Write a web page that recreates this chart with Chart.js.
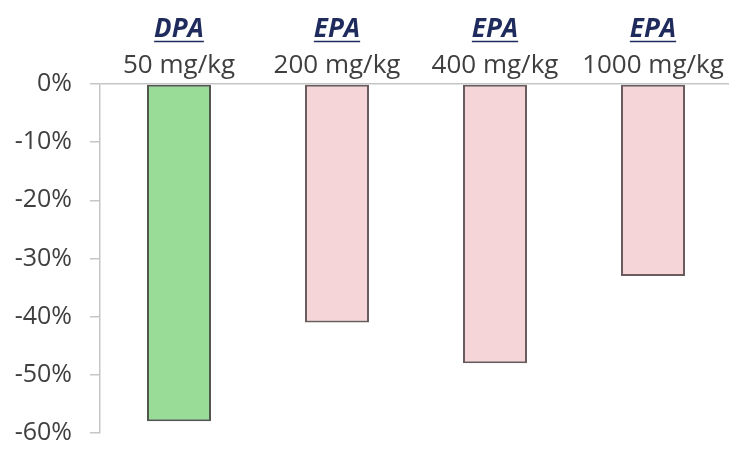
<!DOCTYPE html>
<html>
<head>
<meta charset="utf-8">
<script src="https://cdn.jsdelivr.net/npm/chart.js@4/dist/chart.umd.min.js"></script>
<style>
  html, body { margin: 0; padding: 0; background: #ffffff; overflow: hidden; }
</style>
</head>
<body>
<canvas id="c" width="732" height="451"></canvas>
<script>
// Compound and dose shown above each bar
const compounds = ['DPA', 'EPA', 'EPA', 'EPA'];
const doses = ['50 mg/kg', '200 mg/kg', '400 mg/kg', '1000 mg/kg'];
// Percent change for each treatment
const changes = [-58, -41, -48, -33];
// Y axis range and step (percent)
const yMin = -60;
const yMax = 0;
const yStep = 10;

const fills = ['#98dc98', '#f6d5d8', '#f6d5d8', '#f6d5d8'];
const borders = ['#505850', '#6a5c5e', '#6a5c5e', '#6a5c5e'];

const FONT = '"Open Sans", Lato, sans-serif';

// Two-line header above each category: underlined compound name and dose
const headerPlugin = {
  id: 'headers',
  afterDraw(chart) {
    const ctx = chart.ctx;
    const x = chart.scales.x;
    ctx.save();
    ctx.textAlign = 'center';
    ctx.textBaseline = 'alphabetic';
    compounds.forEach((name, i) => {
      const cx = x.getPixelForValue(i);
      ctx.font = 'italic bold 26px ' + FONT;
      ctx.fillStyle = '#1e2b5c';
      ctx.fillText(name, cx, 37);
      const w = ctx.measureText(name).width;
      ctx.strokeStyle = '#1e2b5c';
      ctx.lineWidth = 1.5;
      ctx.beginPath();
      ctx.moveTo(cx - w / 2, 41.5);
      ctx.lineTo(cx + w / 2, 41.5);
      ctx.stroke();
      ctx.font = '26px ' + FONT;
      ctx.fillStyle = '#3f3f3f';
      ctx.fillText(doses[i], cx, 73);
    });
    ctx.restore();
  }
};

new Chart(document.getElementById('c'), {
  type: 'bar',
  data: {
    labels: doses,
    datasets: [{
      data: changes,
      backgroundColor: fills,
      borderColor: borders,
      borderWidth: 2,
      borderSkipped: false,
      categoryPercentage: 1,
      barPercentage: 0.405
    }]
  },
  options: {
    responsive: false,
    animation: false,
    devicePixelRatio: 1,
    layout: { padding: { top: 84, bottom: 18, left: 0, right: 0 } },
    plugins: { legend: { display: false }, tooltip: { enabled: false } },
    scales: {
      x: { display: false },
      y: {
        min: yMin,
        max: yMax,
        afterFit(s) {
          s.width = 100;
          s.paddingTop = 0;
          s.paddingBottom = 0;
        },
        ticks: {
          stepSize: yStep,
          padding: 18,
          color: '#404040',
          font: { family: FONT, size: 25 },
          callback: v => v + '%'
        },
        border: { display: true, color: '#c6c6c6', width: 1.5 },
        grid: {
          drawOnChartArea: true,
          tickLength: 10,
          tickColor: '#c6c6c6',
          lineWidth: 1.5,
          color: ctx => (ctx.tick && ctx.tick.value === 0) ? '#c6c6c6' : 'rgba(0,0,0,0)'
        }
      }
    }
  },
  plugins: [headerPlugin]
});
</script>
</body>
</html>
